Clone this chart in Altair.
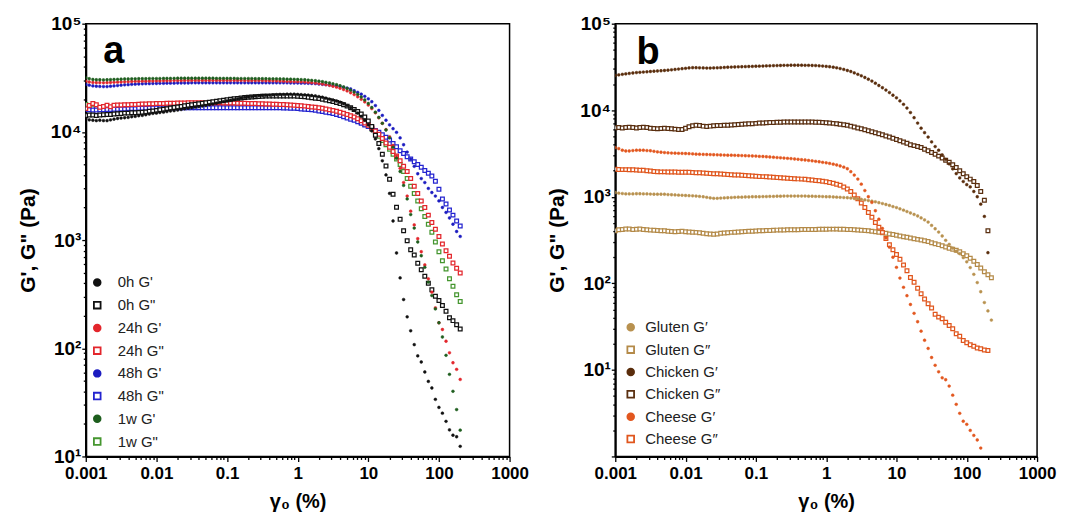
import altair as alt
import pandas as pd

# strain amplitude grid (20 points per decade)
MANT = [1.00, 1.12, 1.26, 1.41, 1.58, 1.78, 2.00, 2.24, 2.51, 2.82,
        3.16, 3.55, 3.98, 4.47, 5.01, 5.62, 6.31, 7.08, 7.94, 8.91]
STRAIN = [round(m * 10.0 ** d, 6) for d in range(-3, 3) for m in MANT]

# ---------------- panel a ----------------
A_NAMES = ["0h G'", '0h G"', "24h G'", '24h G"', "48h G'", '48h G"', "1w G'", '1w G"']
A_COLORS = ["#111111", "#111111", "#e3262c", "#e3262c", "#1c1cc0", "#2424d0", "#1e5e1e", "#45962f"]

a_0h_g1 = [13200, 12900, 12800, 12700, 12800, 12700, 12700, 12900, 13100, 13300,
           13400, 13500, 13600, 13800, 13900, 14100, 14200, 14400, 14600, 14800,
           14900, 15100, 15200, 15400, 15600, 15700, 15900, 16100, 16300, 16500,
           16700, 16900, 17100, 17300, 17500, 17800, 18100, 18400, 18700, 19000,
           19300, 19600, 19900, 20200, 20500, 20800, 21000, 21200, 21400, 21600,
           21700, 21800, 21900, 22000, 22100, 22200, 22200, 22300, 22300, 22300,
           22200, 22100, 22000, 21900, 21700, 21500, 21200, 20900, 20500, 20100,
           19700, 19300, 18800, 18200, 17500, 16700, 15800, 14900, 13900, 12800,
           11600, 10200, 8600, 7000, 5400, 4000, 2700, 1500, 759, 447,
           282, 195, 145, 108, 85, 74.6, 60.3, 49.4, 42.9, 33.7,
           28.4, 25.1, 21.1, 17.6, 15.7, 15.2, 12.4]
a_0h_g2 = [14200, 14300, 14300, 14200, 14300, 14400, 14500, 14500, 14600, 14700,
           14800, 14900, 14900, 15000, 15000, 15100, 15200, 15300, 15500, 15600,
           15800, 16000, 16200, 16400, 16600, 16800, 17000, 17200, 17400, 17600,
           17800, 18000, 18200, 18400, 18600, 18800, 19000, 19200, 19400, 19600,
           19800, 20000, 20200, 20400, 20600, 20800, 20900, 21000, 21100, 21200,
           21300, 21400, 21400, 21500, 21500, 21500, 21500, 21500, 21400, 21400,
           21300, 21200, 21100, 20900, 20700, 20500, 20300, 20000, 19700, 19400,
           19100, 18700, 18300, 17800, 17300, 16700, 16100, 15400, 14600, 13700,
           12600, 11200, 9300, 7800, 6200, 4840, 3650, 2650, 2010, 1560,
           1220, 986, 814, 728, 610, 532, 462, 399, 348, 303,
           276, 248, 220, 191, 180, 165, 151]
a_24h_g1 = [29400, 28900, 28600, 28500, 28500, 28400, 28500, 28600, 28700, 28800,
            28900, 29000, 29100, 29200, 29300, 29300, 29400, 29400, 29500, 29500,
            29600, 29600, 29700, 29700, 29700, 29800, 29800, 29800, 29900, 29900,
            29900, 29900, 29900, 29900, 29900, 29900, 29900, 29900, 29900, 29900,
            29900, 29900, 29900, 29900, 29900, 29800, 29800, 29800, 29800, 29800,
            29800, 29700, 29700, 29700, 29600, 29500, 29400, 29300, 29200, 29100,
            29100, 29000, 28900, 28700, 28500, 28300, 28000, 27700, 27300, 26900,
            26400, 25900, 25300, 24600, 23900, 23000, 22100, 21100, 20000, 18900,
            17700, 16400, 15000, 13500, 12000, 10500, 9000, 7500, 6000, 4600,
            3400, 2550, 1850, 1380, 1030, 780, 589, 438, 330, 236,
            172, 149, 116, 90.8, 73.5, 63.8, 51.5]
a_24h_g2 = [16400, 17500, 18300, 17800, 16900, 17200, 17600, 17100, 17600, 17700,
            17700, 17800, 17800, 17900, 17900, 18000, 18100, 18100, 18200, 18200,
            18300, 18300, 18300, 18400, 18400, 18400, 18500, 18500, 18500, 18600,
            18600, 18600, 18600, 18600, 18600, 18600, 18600, 18600, 18600, 18500,
            18500, 18500, 18500, 18400, 18400, 18400, 18300, 18300, 18300, 18200,
            18200, 18100, 18100, 18000, 18000, 17900, 17900, 17800, 17700, 17600,
            17500, 17400, 17300, 17150, 17000, 16850, 16700, 16500, 16300, 16050,
            15800, 15500, 15200, 14850, 14500, 14100, 13700, 13200, 12700, 12100,
            11500, 10900, 10200, 9500, 8700, 7900, 7200, 6600, 6000, 5400,
            4800, 4300, 3700, 3150, 2700, 2300, 2000, 1700, 1450, 1260,
            1080, 920, 796, 707, 614, 548, 496]
a_48h_g1 = [27400, 27000, 26600, 26400, 26300, 26200, 26200, 26400, 26600, 26800,
            27000, 27200, 27300, 27500, 27600, 27700, 27800, 27900, 27900, 28000,
            28000, 28100, 28100, 28200, 28200, 28200, 28300, 28300, 28300, 28300,
            28400, 28400, 28400, 28400, 28400, 28400, 28400, 28400, 28400, 28400,
            28400, 28400, 28400, 28400, 28400, 28400, 28400, 28400, 28400, 28400,
            28400, 28400, 28400, 28400, 28400, 28400, 28400, 28400, 28300, 28300,
            28300, 28200, 28200, 28100, 28000, 27900, 27700, 27500, 27300, 27100,
            26800, 26500, 26200, 25800, 25400, 24900, 24000, 23200, 22300, 21300,
            20200, 19000, 17500, 15800, 14200, 12800, 11600, 10700, 9900, 8800,
            7600, 6500, 5600, 4800, 4100, 3700, 3400, 3000, 2750, 2550,
            2300, 2000, 1800, 1600, 1400, 1200, 1080]
a_48h_g2 = [16100, 16000, 15900, 15900, 16000, 16000, 16100, 16100, 16200, 16200,
            16300, 16300, 16400, 16400, 16400, 16500, 16500, 16500, 16600, 16600,
            16600, 16600, 16600, 16600, 16700, 16700, 16700, 16700, 16700, 16700,
            16700, 16700, 16700, 16700, 16700, 16700, 16700, 16700, 16700, 16700,
            16700, 16700, 16700, 16700, 16700, 16700, 16700, 16700, 16700, 16700,
            16700, 16700, 16700, 16700, 16700, 16700, 16600, 16600, 16500, 16500,
            16400, 16300, 16200, 16100, 16000, 15800, 15600, 15400, 15200, 15000,
            14800, 14500, 14200, 13800, 13400, 13100, 12800, 12400, 12000, 11600,
            11200, 10800, 10300, 9900, 9400, 8900, 8400, 7800, 7300, 6700,
            6300, 5900, 5600, 5300, 5000, 4700, 4400, 4150, 3900, 3500,
            2950, 2400, 2150, 1900, 1700, 1500, 1350]
a_1w_g1 = [31600, 31000, 30500, 30300, 30300, 30200, 30300, 30400, 30500, 30600,
           30700, 30800, 30800, 30900, 30900, 31000, 31000, 31000, 31100, 31100,
           31100, 31100, 31200, 31200, 31200, 31200, 31300, 31300, 31300, 31300,
           31300, 31300, 31300, 31300, 31300, 31300, 31300, 31200, 31200, 31200,
           31200, 31200, 31200, 31100, 31100, 31100, 31100, 31100, 31000, 31000,
           31000, 31000, 30900, 30900, 30900, 30800, 30800, 30700, 30700, 30600,
           30500, 30400, 30300, 30100, 29900, 29700, 29400, 29100, 28700, 28300,
           27800, 27300, 26700, 26000, 25200, 24300, 23300, 22200, 21000, 19700,
           18300, 16800, 15200, 13600, 12000, 10400, 8800, 7200, 5700, 4300,
           3200, 2400, 1720, 1290, 960, 716, 560, 408, 307, 231,
           172, 127, 86, 57.4, 40, 27.1, 17.5]
a_1w_g2 = [17900, 17200, 16600, 16800, 16500, 16700, 16600, 16800, 16900, 16900,
           17000, 17000, 17000, 17000, 17100, 17100, 17100, 17100, 17100, 17200,
           17200, 17200, 17200, 17200, 17200, 17200, 17200, 17200, 17200, 17200,
           17200, 17200, 17200, 17200, 17200, 17200, 17200, 17200, 17200, 17200,
           17200, 17200, 17200, 17200, 17200, 17200, 17200, 17200, 17200, 17200,
           17200, 17200, 17200, 17200, 17200, 17100, 17100, 17100, 17000, 17000,
           17000, 16900, 16800, 16650, 16500, 16300, 16100, 15900, 15700, 15450,
           15200, 14900, 14600, 14250, 13900, 13500, 13100, 12700, 12200, 11700,
           11200, 10600, 9900, 9100, 8300, 7600, 6900, 6200, 5600, 5000,
           4300, 3700, 3150, 2700, 2300, 1950, 1650, 1400, 1180, 960,
           780, 645, 540, 438, 374, 313, 270]

# ---------------- panel b ----------------
B_NAMES = ["Gluten G\u2032", "Gluten G\u2033", "Chicken G\u2032", "Chicken G\u2033",
           "Cheese G\u2032", "Cheese G\u2033"]
B_COLORS = ["#b8914f", "#b48a48", "#5a2d0c", "#5a2f10", "#e2571f", "#e0561d"]

b_glu_g1 = [1120, 1100, 1090, 1080, 1080, 1080, 1085, 1085, 1080, 1080,
            1075, 1070, 1070, 1070, 1070, 1060, 1055, 1050, 1045, 1040,
            1035, 1030, 1025, 1020, 1010, 1000, 985, 970, 960, 960,
            965, 970, 975, 980, 985, 990, 990, 995, 995, 1000,
            1000, 1000, 1005, 1005, 1010, 1010, 1015, 1015, 1020, 1020,
            1020, 1020, 1020, 1020, 1020, 1015, 1015, 1010, 1010, 1005,
            1000, 1000, 995, 990, 985, 980, 975, 965, 955, 945,
            935, 920, 905, 890, 875, 855, 835, 815, 795, 770,
            750, 725, 700, 675, 650, 625, 600, 570, 540, 510,
            467, 427, 391, 352, 314, 282, 255, 235, 220, 198,
            177, 152, 127, 102, 80, 60, 48, 37.6]
b_glu_g2 = [405, 415, 420, 425, 424, 420, 422, 425, 420, 415,
            412, 410, 408, 405, 405, 400, 398, 395, 398, 400,
            395, 392, 390, 388, 385, 380, 375, 372, 370, 372,
            378, 382, 385, 388, 390, 392, 395, 397, 399, 400,
            402, 404, 405, 407, 409, 410, 412, 413, 414, 415,
            416, 416, 417, 418, 418, 419, 420, 420, 421, 422,
            422, 423, 423, 423, 422, 421, 420, 418, 416, 414,
            411, 408, 405, 400, 395, 390, 384, 378, 372, 366,
            360, 353, 346, 340, 334, 328, 322, 316, 310, 305,
            295, 287, 280, 272, 263, 255, 247, 241, 232, 220,
            208, 195, 180, 165, 150, 136, 126, 116]
b_chk_g1 = [25200, 25600, 26000, 26300, 26600, 26900, 27200, 27400, 27600, 27800,
            28000, 28200, 28400, 28600, 28800, 29000, 29300, 29600, 29900, 30200,
            30500, 30800, 31000, 31000, 30900, 30800, 30700, 30700, 30800, 30900,
            31000, 31200, 31400, 31500, 31600, 31700, 31800, 31900, 32000, 32100,
            32200, 32300, 32400, 32500, 32600, 32700, 32800, 32900, 33000, 33000,
            33100, 33100, 33100, 33100, 33000, 33000, 32900, 32800, 32600, 32400,
            32100, 31800, 31400, 30900, 30300, 29600, 28800, 28000, 27000, 26000,
            25000, 23900, 22800, 21700, 20500, 19300, 18200, 17100, 16000, 14900,
            13900, 12800, 11700, 10600, 9400, 8200, 7100, 6200, 5500, 4900,
            4300, 3800, 3450, 3050, 2700, 2400, 2100, 1850, 1650, 1500,
            1380, 1300, 1150, 1000, 822, 593, 226]
b_chk_g2 = [6280, 6300, 6250, 6300, 6350, 6300, 6250, 6300, 6350, 6300,
            6200, 6150, 6100, 6150, 6200, 6150, 6100, 6050, 6000, 6000,
            6200, 6450, 6600, 6700, 6650, 6550, 6500, 6550, 6600, 6650,
            6650, 6700, 6700, 6750, 6800, 6850, 6900, 6950, 7000, 7000,
            7050, 7100, 7100, 7150, 7200, 7200, 7250, 7250, 7300, 7300,
            7300, 7300, 7300, 7300, 7300, 7300, 7300, 7250, 7250, 7200,
            7150, 7100, 7050, 7000, 6900, 6800, 6700, 6550, 6400, 6250,
            6100, 5950, 5800, 5650, 5500, 5350, 5200, 5050, 4900, 4750,
            4600, 4450, 4300, 4150, 4000, 3900, 3800, 3700, 3550, 3400,
            3250, 3100, 2950, 2800, 2650, 2500, 2350, 2180, 2000, 1850,
            1700, 1600, 1500, 1350, 1150, 914, 405]
b_chs_g1 = [3700, 3600, 3450, 3380, 3380, 3420, 3450, 3450, 3450, 3420,
            3400, 3350, 3300, 3270, 3240, 3220, 3200, 3190, 3180, 3170,
            3160, 3150, 3130, 3110, 3100, 3090, 3080, 3070, 3060, 3050,
            3040, 3030, 3020, 3020, 3010, 3000, 2990, 2980, 2970, 2960,
            2950, 2930, 2920, 2900, 2880, 2860, 2840, 2820, 2800, 2780,
            2760, 2730, 2710, 2680, 2660, 2630, 2600, 2570, 2540, 2500,
            2470, 2430, 2380, 2330, 2270, 2200, 2110, 1950, 1780, 1600,
            1400, 1180, 1000, 860, 690, 550, 430, 335, 262, 200,
            153, 115, 90, 72, 57, 45, 36, 28, 22, 17.7,
            13.9, 11.3, 9.5, 8.1, 7.7, 6.5, 5.1, 4.0, 3.15, 2.55,
            2.35, 2.0, 1.75, 1.55, 1.25]
b_chs_g2 = [2080, 2070, 2060, 2060, 2050, 2050, 2040, 2030, 2020, 2000,
            1980, 1960, 1950, 1940, 1940, 1935, 1930, 1930, 1925, 1920,
            1920, 1915, 1910, 1900, 1890, 1880, 1870, 1860, 1850, 1840,
            1830, 1820, 1810, 1800, 1790, 1780, 1770, 1760, 1750, 1740,
            1730, 1720, 1710, 1700, 1690, 1680, 1670, 1660, 1650, 1640,
            1630, 1620, 1610, 1600, 1590, 1575, 1560, 1545, 1530, 1510,
            1490, 1460, 1430, 1400, 1360, 1300, 1230, 1150, 1050, 950,
            850, 750, 660, 580, 505, 445, 388, 330, 280, 245,
            215, 190, 163, 140, 117, 103, 88, 76, 66, 58,
            52, 44, 40.7, 38.9, 35.6, 32.6, 29.8, 26.1, 24.5, 21.9,
            20.6, 19.5, 18.7, 17.9, 17.5, 17.0, 16.8]

# tick values (majors + minors)
XT = [m * 10.0 ** d for d in range(-3, 3) for m in range(1, 10)] + [1000.0]
YT_A = [m * 10.0 ** d for d in range(1, 5) for m in range(1, 10)] + [1e5]
YT_B = [m * 10.0 ** d for d in range(0, 5) for m in range(1, 10)] + [1e5]

FONT = "Liberation Sans, Arial, sans-serif"


def frame(order):
    rows = []
    for name, vals, kind in order:
        for i, v in enumerate(vals):
            rows.append({"x": STRAIN[i], "y": v, "s": name, "kind": kind})
    return pd.DataFrame(rows)


df_a = frame([
    ('1w G"', a_1w_g2, "sq"), ('48h G"', a_48h_g2, "sq"), ('24h G"', a_24h_g2, "sq"), ('0h G"', a_0h_g2, "sq"),
    ("48h G'", a_48h_g1, "dot"), ("24h G'", a_24h_g1, "dot"), ("1w G'", a_1w_g1, "dot"), ("0h G'", a_0h_g1, "dot"),
])
df_b = frame([
    (B_NAMES[1], b_glu_g2, "sq"), (B_NAMES[3], b_chk_g2, "sq"), (B_NAMES[5], b_chs_g2, "sq"),
    (B_NAMES[0], b_glu_g1, "dot"), (B_NAMES[2], b_chk_g1, "dot"), (B_NAMES[4], b_chs_g1, "dot"),
])

MAJOR = "abs(log(datum.value)/LN10 - round(log(datum.value)/LN10)) < 0.01"
EXP = "round(log(datum.value)/LN10)"
SUP = "['\u2070','\u00b9','\u00b2','\u00b3','\u2074','\u2075']"


def panel(df, names, colors, ydom, yticks, letter, lx, ly, lrow, loff, tx, ty, w):
    is_g1 = ["\u2032" in n or n.endswith("'") for n in names]
    fills = [c if g else "white" for g, c in zip(is_g1, colors)]
    shapes = ["circle" if g else "square" for g in is_g1]
    xaxis = alt.Axis(values=XT, labelExpr=f"({MAJOR}) ? format(datum.value, '~g') : ''",
                     tickSize={"condition": {"test": MAJOR, "value": 5}, "value": 3},
                     tickWidth=1.3, tickColor="black", domainColor="black", domainWidth=2,
                     grid=False, labelFont=FONT, labelFontSize=17, labelFontWeight="bold",
                     labelColor="black", labelPadding=4, labelOverlap=False, labelFlush=False,
                     title="\u03b3\u2080 (%)", titleFont=FONT, titleFontSize=20, titleFontWeight="bold",
                     titleColor="black", titlePadding=10)
    yaxis = alt.Axis(values=yticks,
                     labelExpr=f"(({MAJOR}) && {EXP} >= 1) ? '10' + {SUP}[{EXP}] : ''",
                     tickSize={"condition": {"test": MAJOR, "value": 4}, "value": 2.5},
                     tickWidth=1.3, tickColor="black", domainColor="black", domainWidth=2,
                     grid=False, labelFont=FONT, labelFontSize=19, labelFontWeight="bold",
                     labelColor="black", labelPadding=1, labelOverlap=False, labelFlush=False,
                     title="G', G\" (Pa)", titleFont=FONT, titleFontSize=21, titleFontWeight="bold",
                     titleColor="black", titlePadding=12)
    leg = alt.Legend(orient="none", legendX=lx, legendY=ly, title=None, padding=0,
                     labelFont=FONT, labelFontSize=15,
                     labelColor="#222222", symbolSize=45, symbolStrokeWidth=1.8,
                     rowPadding=lrow, labelOffset=loff, symbolOpacity=1)
    base = alt.Chart(df).encode(
        x=alt.X("x:Q", scale=alt.Scale(type="log", domain=[0.001, 1000], nice=False), axis=xaxis),
        y=alt.Y("y:Q", scale=alt.Scale(type="log", domain=ydom, nice=False), axis=yaxis),
        fill=alt.Fill("s:N", scale=alt.Scale(domain=names, range=fills), legend=leg),
        stroke=alt.Stroke("s:N", scale=alt.Scale(domain=names, range=colors), legend=leg),
        shape=alt.Shape("s:N", scale=alt.Scale(domain=names, range=shapes), legend=leg),
    )
    sq = base.transform_filter("datum.kind == 'sq'").mark_point(size=14, strokeWidth=1.25, opacity=1, clip=True)
    dt = base.transform_filter("datum.kind == 'dot'").mark_point(size=8, strokeWidth=0.5, opacity=1, clip=True)
    txt = alt.Chart(pd.DataFrame({"t": [letter]})).mark_text(
        font=FONT, fontSize=38, fontWeight="bold", color="black", align="center", baseline="alphabetic"
    ).encode(text="t:N", x=alt.value(tx), y=alt.value(ty))
    return alt.layer(sq, dt, txt).properties(width=w, height=434)


pa = panel(df_a, A_NAMES, A_COLORS, [10, 1e5], YT_A, "a", 4, 252, 6.8, 13, 28, 39, 425)
pb = panel(df_b, B_NAMES, B_COLORS, [1, 1e5], YT_B, "b", 8, 297, 6.4, 7, 33, 40, 423)

chart = alt.hconcat(pa, pb, spacing=106, bounds="flush").resolve_scale(
    x="independent", y="independent", fill="independent", stroke="independent", shape="independent"
).resolve_legend(fill="independent", stroke="independent", shape="independent").properties(
    padding={"left": 8, "top": 5, "right": 5, "bottom": 2}
).configure_view(stroke="black", strokeWidth=1.5)

chart.save("out.html", embed_options={"renderer": "svg", "actions": False})
